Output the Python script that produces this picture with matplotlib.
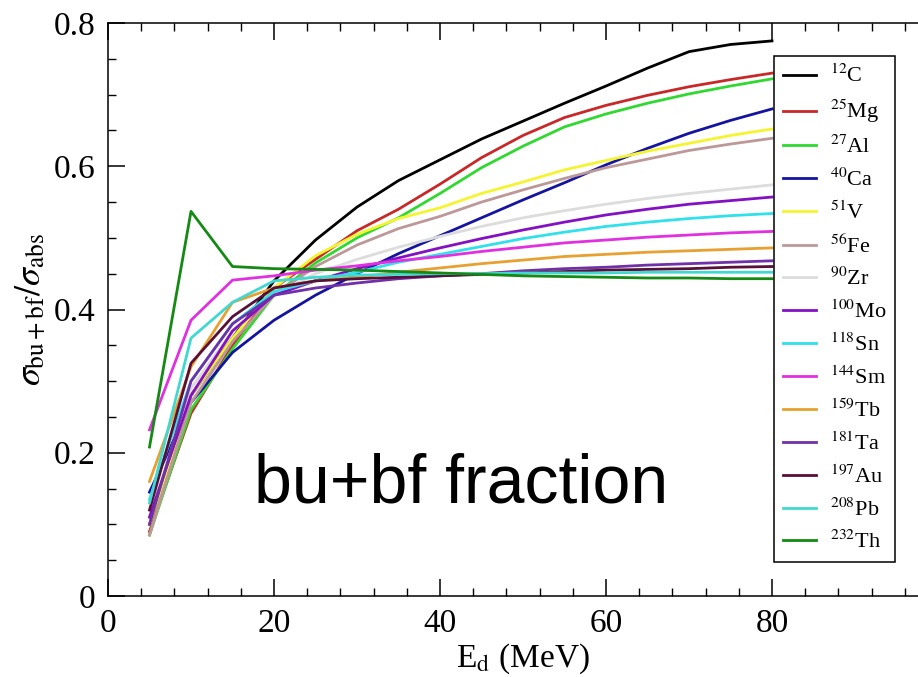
import numpy as np
import matplotlib
matplotlib.use('Agg')
import matplotlib.pyplot as plt
from matplotlib.ticker import MultipleLocator

plt.rcParams['font.family'] = ['Liberation Serif', 'DejaVu Serif']
plt.rcParams['mathtext.fontset'] = 'stix'

# deuteron energies (MeV)
energy = [5, 10, 15, 20, 25, 30, 35, 40, 45, 50, 55, 60, 65, 70, 75, 80]

# breakup + breakup-fusion fraction of the absorption cross section
frac_C  = [0.100, 0.280, 0.360, 0.440, 0.497, 0.543, 0.580, 0.609, 0.638, 0.663, 0.688, 0.712, 0.737, 0.760, 0.770, 0.775]
frac_Mg = [0.090, 0.255, 0.350, 0.430, 0.470, 0.510, 0.540, 0.575, 0.612, 0.643, 0.668, 0.685, 0.699, 0.711, 0.721, 0.730]
frac_Al = [0.085, 0.260, 0.345, 0.420, 0.465, 0.500, 0.528, 0.562, 0.598, 0.628, 0.655, 0.673, 0.688, 0.701, 0.712, 0.722]
frac_Ca = [0.145, 0.270, 0.340, 0.385, 0.420, 0.450, 0.478, 0.503, 0.528, 0.553, 0.577, 0.602, 0.625, 0.646, 0.664, 0.680]
frac_V  = [0.100, 0.280, 0.360, 0.430, 0.475, 0.505, 0.527, 0.542, 0.562, 0.578, 0.595, 0.608, 0.621, 0.632, 0.643, 0.652]
frac_Fe = [0.085, 0.270, 0.355, 0.420, 0.460, 0.490, 0.513, 0.530, 0.550, 0.567, 0.583, 0.598, 0.610, 0.622, 0.631, 0.639]
frac_Zr = [0.110, 0.290, 0.370, 0.420, 0.450, 0.470, 0.487, 0.502, 0.516, 0.528, 0.538, 0.547, 0.555, 0.562, 0.568, 0.574]
frac_Mo = [0.110, 0.280, 0.370, 0.420, 0.440, 0.457, 0.472, 0.486, 0.499, 0.511, 0.522, 0.532, 0.540, 0.547, 0.552, 0.557]
frac_Sn = [0.135, 0.300, 0.380, 0.425, 0.440, 0.452, 0.466, 0.477, 0.488, 0.499, 0.508, 0.516, 0.522, 0.527, 0.531, 0.534]
frac_Sm = [0.232, 0.385, 0.441, 0.447, 0.455, 0.461, 0.468, 0.474, 0.481, 0.487, 0.493, 0.497, 0.501, 0.504, 0.507, 0.509]
frac_Tb = [0.160, 0.320, 0.410, 0.430, 0.440, 0.445, 0.452, 0.458, 0.464, 0.469, 0.474, 0.477, 0.480, 0.482, 0.484, 0.486]
frac_Ta = [0.100, 0.300, 0.380, 0.420, 0.430, 0.437, 0.443, 0.447, 0.450, 0.454, 0.457, 0.459, 0.462, 0.464, 0.466, 0.468]
frac_Au = [0.120, 0.325, 0.390, 0.430, 0.440, 0.443, 0.445, 0.447, 0.449, 0.451, 0.453, 0.455, 0.456, 0.457, 0.459, 0.460]
frac_Pb = [0.130, 0.360, 0.410, 0.440, 0.445, 0.448, 0.449, 0.450, 0.450, 0.451, 0.451, 0.451, 0.452, 0.452, 0.452, 0.452]
frac_Th = [0.208, 0.537, 0.460, 0.457, 0.456, 0.455, 0.453, 0.451, 0.449, 0.447, 0.446, 0.445, 0.444, 0.444, 0.443, 0.443]

targets = [r'$^{12}$C', r'$^{25}$Mg', r'$^{27}$Al', r'$^{40}$Ca', r'$^{51}$V',
           r'$^{56}$Fe', r'$^{90}$Zr', r'$^{100}$Mo', r'$^{118}$Sn', r'$^{144}$Sm',
           r'$^{159}$Tb', r'$^{181}$Ta', r'$^{197}$Au', r'$^{208}$Pb', r'$^{232}$Th']
series = [frac_C, frac_Mg, frac_Al, frac_Ca, frac_V, frac_Fe, frac_Zr, frac_Mo,
          frac_Sn, frac_Sm, frac_Tb, frac_Ta, frac_Au, frac_Pb, frac_Th]
# grace-like palette
colors = ['#000000', '#c82828', '#30d830', '#1414a0', '#f4f430', '#bc9898',
          '#dcdcdc', '#8410c4', '#30e0ea', '#e030e0', '#e8a030', '#7030a8',
          '#581038', '#40d8d0', '#148a14']

xticks = [0, 20, 40, 60, 80]
yticks = [0, 0.2, 0.4, 0.6, 0.8]
ytick_labels = ['0', '0.2', '0.4', '0.6', '0.8']

fig = plt.figure(figsize=(9.18, 6.77), dpi=100)
ax = fig.add_axes([108/918, 81/677, 830/918, 573/677])

for vals, lab, c in zip(series, targets, colors):
    ax.plot(energy, vals, '-', color=c, lw=2.0, label=lab)

ax.set_xlim(0, 100)
ax.set_ylim(0, 0.8)
ax.set_xticks(xticks)
ax.set_xticklabels([str(t) for t in xticks])
ax.xaxis.set_minor_locator(MultipleLocator(4))
ax.set_yticks(yticks)
ax.set_yticklabels(ytick_labels)
ax.yaxis.set_minor_locator(MultipleLocator(0.05))
ax.tick_params(which='both', direction='in', top=True, right=True, labelsize=24)
ax.tick_params(which='major', length=12, width=1.1, pad=9)
ax.tick_params(which='minor', length=6, width=1.0)
for s in ax.spines.values():
    s.set_linewidth(1.1)

ax.set_xlabel(r'E$_{\mathrm{d}}$ (MeV)', fontsize=24, labelpad=2)
ax.set_ylabel(r'$\sigma_{\mathrm{bu+bf}}/\sigma_{\mathrm{abs}}$', fontsize=26, labelpad=4)

ax.text(17.6, 0.131, 'bu+bf fraction', fontsize=49, family='Liberation Sans',
        ha='left', va='baseline')

leg = ax.legend(loc='upper left', bbox_to_anchor=(774/918, 1 - 56/677),
                bbox_transform=fig.transFigure, fontsize=16, frameon=True,
                fancybox=False, framealpha=1, edgecolor='black',
                handlelength=1.5, handletextpad=0.6, labelspacing=0.47,
                borderpad=0.4, borderaxespad=0)
leg.get_frame().set_linewidth(1.1)

fig.savefig('out.png', dpi=100)
